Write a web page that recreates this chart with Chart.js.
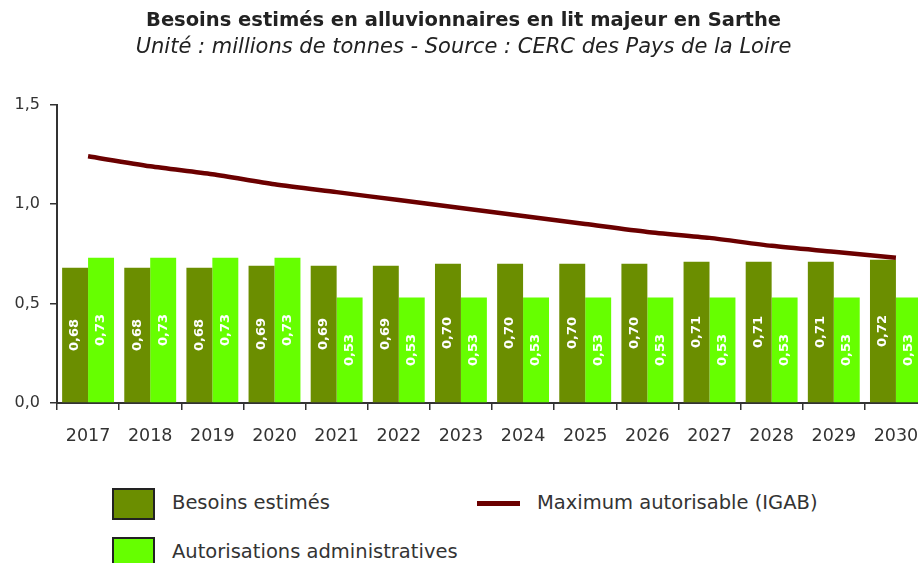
<!DOCTYPE html>
<html>
<head>
<meta charset="utf-8">
<script src="https://cdn.jsdelivr.net/npm/chart.js@4.4.1/dist/chart.umd.min.js"></script>
<style>
  html, body { margin: 0; padding: 0; background: #fff; overflow: hidden; }
  #wrap { position: relative; width: 918px; height: 563px; overflow: hidden; }
  #chart { position: absolute; left: 0; top: 0; }
  .leg { position: absolute; font-family: 'DejaVu Sans', sans-serif; font-size: 19.5px; color: #333; white-space: nowrap; }
  .box { position: absolute; width: 39px; height: 28px; border: 2px solid #222; }
  .bar { position: absolute; width: 43px; height: 5px; }
</style>
</head>
<body>
<div id="wrap">
  <canvas id="chart" width="940" height="463"></canvas>
  <div id="legend"></div>
</div>
<script>
const years = ['2017', '2018', '2019', '2020', '2021', '2022', '2023', '2024', '2025', '2026', '2027', '2028', '2029', '2030'];
const besoins = [0.68, 0.68, 0.68, 0.69, 0.69, 0.69, 0.70, 0.70, 0.70, 0.70, 0.71, 0.71, 0.71, 0.72];
const autorisations = [0.73, 0.73, 0.73, 0.73, 0.53, 0.53, 0.53, 0.53, 0.53, 0.53, 0.53, 0.53, 0.53, 0.53];
const maximum = [1.24, 1.19, 1.15, 1.10, 1.06, 1.02, 0.98, 0.94, 0.90, 0.86, 0.83, 0.79, 0.76, 0.73];

const darkGreen = '#6b8e00';
const lightGreen = '#66ff00';
const maroon = '#6b0000';
const fontFam = "'DejaVu Sans', sans-serif";

const fr = v => v.toFixed(2).replace('.', ',');

// valeurs écrites verticalement au milieu des barres
const barLabels = {
  id: 'barLabels',
  afterDatasetsDraw(chart) {
    const ctx = chart.ctx;
    chart.data.datasets.forEach((ds, i) => {
      if (ds.type !== 'bar') return;
      chart.getDatasetMeta(i).data.forEach((el, j) => {
        ctx.save();
        ctx.translate(el.x, (el.y + el.base) / 2);
        ctx.rotate(-Math.PI / 2);
        ctx.font = "bold 13px 'DejaVu Sans'";
        ctx.fillStyle = '#fff';
        ctx.textAlign = 'center';
        ctx.textBaseline = 'middle';
        ctx.fillText(fr(ds.data[j]), 0, 0);
        ctx.restore();
      });
    });
  }
};

const chart = new Chart(document.getElementById('chart'), {
  data: {
    labels: years,
    datasets: [
      {
        type: 'line',
        label: 'Maximum autorisable (IGAB)',
        data: maximum,
        borderColor: maroon,
        backgroundColor: maroon,
        borderWidth: 4.5,
        pointRadius: 0,
        tension: 0.25,
        order: 0
      },
      {
        type: 'bar',
        label: 'Besoins estimés',
        data: besoins,
        backgroundColor: darkGreen,
        categoryPercentage: 0.835,
        barPercentage: 1,
        order: 1
      },
      {
        type: 'bar',
        label: 'Autorisations administratives',
        data: autorisations,
        backgroundColor: lightGreen,
        categoryPercentage: 0.835,
        barPercentage: 1,
        order: 1
      }
    ]
  },
  options: {
    responsive: false,
    animation: false,
    layout: { padding: { top: 0, right: 13, bottom: 0, left: 0 } },
    plugins: {
      legend: { display: false },
      tooltip: { enabled: false },
      title: {
        display: true,
        text: 'Besoins estimés en alluvionnaires en lit majeur en Sarthe',
        color: '#222',
        font: { family: fontFam, size: 19.5, weight: 'bold', lineHeight: 1.2 },
        padding: { top: 9, bottom: 3 }
      },
      subtitle: {
        display: true,
        text: 'Unité : millions de tonnes - Source : CERC des Pays de la Loire',
        color: '#222',
        font: { family: fontFam, size: 21, style: 'italic', lineHeight: 1.2 },
        padding: { top: 0, bottom: 44 }
      }
    },
    scales: {
      x: {
        grid: { drawOnChartArea: false, drawTicks: true, tickLength: 7, color: '#333', lineWidth: 1.5, offset: true },
        border: { display: true, color: '#333', width: 2 },
        ticks: { color: '#333', font: { family: fontFam, size: 17.5 }, padding: 16, maxRotation: 0 },
        afterFit: s => { s.height = 60; }
      },
      y: {
        min: 0,
        max: 1.5,
        grid: { drawOnChartArea: false, drawTicks: true, tickLength: 7, color: '#333', lineWidth: 1.5 },
        border: { display: true, color: '#333', width: 2 },
        ticks: { stepSize: 0.5, color: '#333', font: { family: fontFam, size: 16 }, padding: 10,
                 callback: v => v.toFixed(1).replace('.', ',') },
        afterFit: s => { s.width = 57; }
      }
    }
  },
  plugins: [barLabels]
});

// légende en deux colonnes, construite à partir des jeux de données
const legend = document.getElementById('legend');
const ds = chart.data.datasets;
const items = [
  { d: ds[1], x: 112, y: 488 },
  { d: ds[2], x: 112, y: 537 },
  { d: ds[0], x: 477, y: 488 }
];
items.forEach(it => {
  if (it.d.type === 'bar') {
    const b = document.createElement('div');
    b.className = 'box';
    b.style.left = it.x + 'px';
    b.style.top = it.y + 'px';
    b.style.background = it.d.backgroundColor;
    legend.appendChild(b);
  } else {
    const l = document.createElement('div');
    l.className = 'bar';
    l.style.left = it.x + 'px';
    l.style.top = (it.y + 13) + 'px';
    l.style.background = it.d.borderColor;
    legend.appendChild(l);
  }
  const t = document.createElement('div');
  t.className = 'leg';
  t.textContent = it.d.label;
  t.style.left = (it.x + 60) + 'px';
  t.style.top = (it.y + 3) + 'px';
  legend.appendChild(t);
});
</script>
</body>
</html>
